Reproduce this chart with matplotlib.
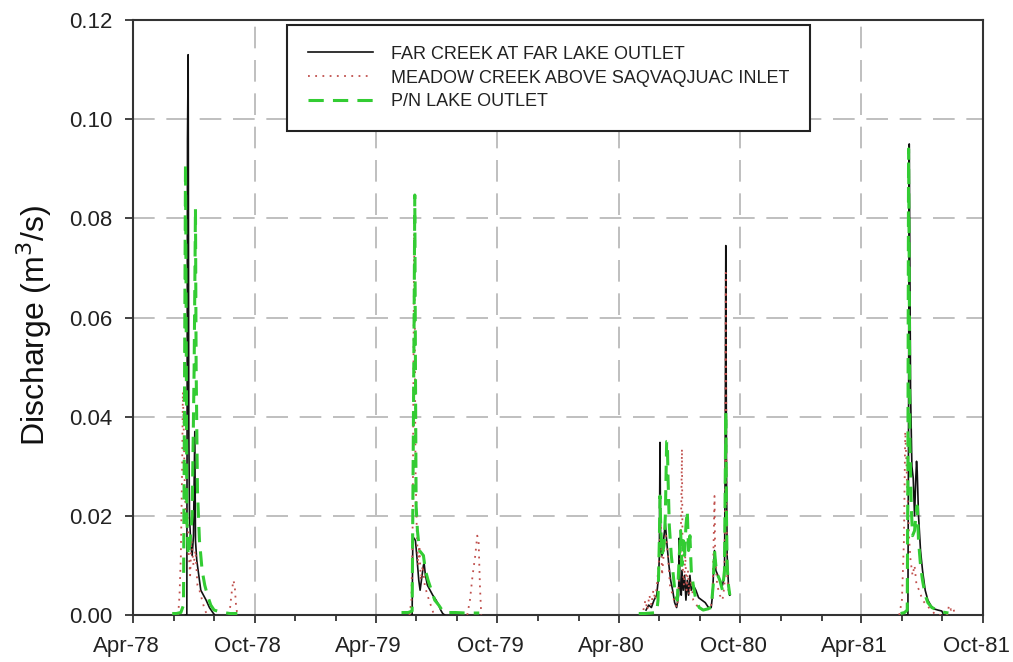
import matplotlib
matplotlib.use("Agg")
import matplotlib.pyplot as plt
import matplotlib.dates as mdates
import matplotlib.transforms as mtransforms
from matplotlib.ticker import FormatStrFormatter
import pandas as pd

plt.rcParams["font.family"] = ["Liberation Sans", "DejaVu Sans"]

# ---- Far Creek at Far Lake outlet (m3/s) ----
far_1978_md = ["06-19", "06-21", "06-22", "06-23", "06-24", "06-25", "06-27", "06-29",
               "07-01", "07-03", "07-04", "07-06", "07-09", "07-12", "07-16", "07-20",
               "07-25", "07-30", "08-02"]
far_1978_q = [0.0, 0.0, 0.096, 0.113, 0.037, 0.020, 0.014, 0.012,
              0.016, 0.037, 0.015, 0.011, 0.008, 0.005, 0.004, 0.003,
              0.0015, 0.0005, 0.0]

far_1979_md = ["05-25", "05-26", "05-27", "05-29", "05-31", "06-02", "06-05", "06-07",
               "06-09", "06-12", "06-13", "06-15", "06-18", "06-22", "06-26", "07-01",
               "07-05", "07-08", "07-11", "07-14"]
far_1979_q = [0.0, 0.0, 0.015, 0.0155, 0.015, 0.012, 0.007, 0.005,
              0.007, 0.010, 0.0105, 0.008, 0.006, 0.005, 0.004, 0.003,
              0.002, 0.001, 0.0003, 0.0]

far_1980_md = ["05-12", "05-16", "05-20", "05-24", "05-28", "05-31", "06-01", "06-02",
               "06-03", "06-05", "06-08", "06-10", "06-12", "06-15", "06-18", "06-21",
               "06-24", "06-27", "06-30", "07-01", "07-02", "07-04", "07-05", "07-07",
               "07-09", "07-11", "07-13", "07-15", "07-17", "07-19", "07-22", "07-26",
               "07-30", "08-04", "08-09", "08-14", "08-18", "08-20", "08-23", "08-25",
               "08-28", "08-31", "09-04", "09-07", "09-08", "09-09", "09-10", "09-11",
               "09-13", "09-15"]
far_1980_q = [0.001, 0.002, 0.0015, 0.003, 0.004, 0.008, 0.012, 0.0348,
              0.013, 0.012, 0.016, 0.0185, 0.015, 0.0105, 0.007, 0.005,
              0.0025, 0.0015, 0.004, 0.0155, 0.006, 0.004, 0.009, 0.005,
              0.008, 0.003, 0.007, 0.004, 0.008, 0.005, 0.006, 0.005,
              0.0035, 0.003, 0.0025, 0.0015, 0.0015, 0.004, 0.013, 0.009,
              0.008, 0.007, 0.006, 0.008, 0.030, 0.0745, 0.030, 0.012,
              0.006, 0.004]

far_1981_md = ["06-08", "06-10", "06-11", "06-12", "06-13", "06-14", "06-16", "06-18",
               "06-20", "06-22", "06-23", "06-24", "06-26", "06-29", "07-02", "07-06",
               "07-10", "07-15", "07-20", "07-25", "07-31", "08-03"]
far_1981_q = [0.0, 0.0, 0.040, 0.095, 0.070, 0.045, 0.030, 0.0276,
              0.020, 0.028, 0.031, 0.029, 0.020, 0.013, 0.009, 0.005,
              0.003, 0.0018, 0.0012, 0.001, 0.0008, 0.0]

# ---- Meadow Creek above Saqvaqjuac inlet (m3/s) ----
meadow_1978_md = ["06-08", "06-10", "06-12", "06-14", "06-15", "06-16", "06-18", "06-20",
                  "06-22", "06-24", "06-26", "06-28", "07-01", "07-04", "07-07", "07-10",
                  "07-14", "07-18", "07-22"]
meadow_1978_q = [0.0, 0.004, 0.012, 0.030, 0.045, 0.040, 0.025, 0.018,
                 0.020, 0.012, 0.008, 0.015, 0.010, 0.013, 0.006, 0.005,
                 0.003, 0.001, 0.0]
meadow_1978b_md = ["08-24", "08-27", "08-30", "09-01", "09-03", "09-05"]
meadow_1978b_q = [0.0, 0.004, 0.007, 0.006, 0.002, 0.0]

meadow_1979_md = ["05-22", "05-25", "05-27", "05-29", "05-30", "05-31", "06-02", "06-04",
                  "06-06", "06-08", "06-11", "06-14", "06-18", "06-23", "06-28"]
meadow_1979_q = [0.0, 0.003, 0.020, 0.077, 0.060, 0.030, 0.017, 0.010,
                 0.014, 0.007, 0.010, 0.006, 0.004, 0.002, 0.0]
meadow_1979b_md = ["08-17", "08-21", "08-25", "08-29", "09-01", "09-03", "09-05", "09-07"]
meadow_1979b_q = [0.0, 0.003, 0.008, 0.012, 0.016, 0.015, 0.006, 0.0]

meadow_1980_md = ["05-08", "05-11", "05-14", "05-17", "05-20", "05-23", "05-26", "05-29",
                  "06-01", "06-03", "06-05", "06-08", "06-11", "06-14", "06-17", "06-21",
                  "06-25", "06-28", "07-01", "07-03", "07-05", "07-06", "07-08", "07-10",
                  "07-12", "07-14", "07-16", "07-19", "07-22", "07-27", "08-02", "08-09",
                  "08-16", "08-20", "08-23", "08-24", "08-27", "08-31", "09-04", "09-07",
                  "09-08", "09-09", "09-10", "09-11", "09-13", "09-15"]
meadow_1980_q = [0.001, 0.003, 0.001, 0.004, 0.002, 0.005, 0.003, 0.007,
                 0.012, 0.020, 0.008, 0.013, 0.016, 0.012, 0.006, 0.004,
                 0.002, 0.0015, 0.008, 0.012, 0.0335, 0.010, 0.006, 0.012,
                 0.005, 0.009, 0.004, 0.007, 0.003, 0.002, 0.001, 0.0015,
                 0.001, 0.003, 0.024, 0.012, 0.006, 0.004, 0.003, 0.006,
                 0.030, 0.069, 0.025, 0.008, 0.005, 0.006]

meadow_1981_md = ["05-28", "06-01", "06-04", "06-06", "06-08", "06-10", "06-12", "06-14",
                  "06-17", "06-20", "06-23", "06-27", "07-02", "07-08", "07-15", "07-22",
                  "08-08", "08-11", "08-14", "08-17", "08-20"]
meadow_1981_q = [0.0, 0.003, 0.015, 0.037, 0.030, 0.022, 0.015, 0.011,
                 0.008, 0.010, 0.006, 0.005, 0.003, 0.002, 0.001, 0.0,
                 0.0, 0.002, 0.001, 0.0015, 0.0]

# ---- P/N Lake outlet (m3/s) ----
pn_1978_md = ["05-30", "06-05", "06-12", "06-16", "06-17", "06-19", "06-20", "06-21",
              "06-23", "06-26", "06-29", "07-02", "07-04", "07-05", "07-07", "07-10",
              "07-14", "07-18", "07-22", "07-27", "08-01", "08-06", "08-15", "08-25",
              "09-05"]
pn_1978_q = [0.0003, 0.0003, 0.0005, 0.002, 0.030, 0.091, 0.060, 0.020,
             0.012, 0.015, 0.020, 0.050, 0.082, 0.050, 0.025, 0.015,
             0.009, 0.006, 0.004, 0.002, 0.001, 0.0008, 0.0005, 0.0003,
             0.0003]

pn_1979_md = ["05-10", "05-20", "05-26", "05-27", "05-29", "05-30", "05-31", "06-01",
              "06-03", "06-06", "06-09", "06-12", "06-15", "06-19", "06-24", "06-29",
              "07-05", "07-10", "07-15", "07-30", "08-15", "09-04"]
pn_1979_q = [0.0005, 0.0005, 0.0008, 0.020, 0.060, 0.0847, 0.050, 0.022,
             0.017, 0.013, 0.0125, 0.012, 0.009, 0.007, 0.005, 0.003,
             0.002, 0.001, 0.0005, 0.0005, 0.0004, 0.0004]

pn_1980_md = ["05-01", "05-10", "05-20", "05-28", "05-30", "06-01", "06-02", "06-03",
              "06-05", "06-08", "06-10", "06-12", "06-13", "06-14", "06-16", "06-19",
              "06-22", "06-25", "06-28", "07-01", "07-03", "07-05", "07-07", "07-09",
              "07-11", "07-13", "07-15", "07-17", "07-19", "07-22", "07-26", "07-31",
              "08-06", "08-12", "08-18", "08-21", "08-23", "08-25", "08-28", "08-31",
              "09-04", "09-07", "09-09", "09-10", "09-11", "09-13", "09-15"]
pn_1980_q = [0.0003, 0.0003, 0.0004, 0.0005, 0.003, 0.015, 0.024, 0.018,
             0.012, 0.014, 0.020, 0.035, 0.035, 0.028, 0.018, 0.012,
             0.008, 0.004, 0.003, 0.012, 0.017, 0.010, 0.015, 0.012,
             0.018, 0.021, 0.013, 0.016, 0.009, 0.006, 0.003, 0.0015,
             0.001, 0.0012, 0.0015, 0.006, 0.013, 0.010, 0.008, 0.007,
             0.005, 0.009, 0.041, 0.020, 0.010, 0.006, 0.004]

pn_1981_md = ["05-30", "06-05", "06-09", "06-10", "06-11", "06-12", "06-13", "06-15",
              "06-17", "06-20", "06-22", "06-24", "06-26", "06-29", "07-02", "07-06",
              "07-10", "07-16", "07-24", "08-01", "08-10"]
pn_1981_q = [0.0003, 0.0005, 0.001, 0.030, 0.094, 0.070, 0.035, 0.022,
             0.016, 0.017, 0.020, 0.022, 0.015, 0.010, 0.007, 0.004,
             0.0025, 0.0015, 0.001, 0.0006, 0.0004]

series_labels = ["FAR CREEK AT FAR LAKE OUTLET",
                 "MEADOW CREEK ABOVE SAQVAQJUAC INLET",
                 "P/N LAKE OUTLET"]
y_ticks = [0.00, 0.02, 0.04, 0.06, 0.08, 0.10, 0.12]


def to_dates(year, md):
    return pd.to_datetime([f"{year}-{d}" for d in md])


far = [(1978, far_1978_md, far_1978_q), (1979, far_1979_md, far_1979_q),
       (1980, far_1980_md, far_1980_q), (1981, far_1981_md, far_1981_q)]
meadow = [(1978, meadow_1978_md, meadow_1978_q), (1978, meadow_1978b_md, meadow_1978b_q),
          (1979, meadow_1979_md, meadow_1979_q), (1979, meadow_1979b_md, meadow_1979b_q),
          (1980, meadow_1980_md, meadow_1980_q), (1981, meadow_1981_md, meadow_1981_q)]
pn = [(1978, pn_1978_md, pn_1978_q), (1979, pn_1979_md, pn_1979_q),
      (1980, pn_1980_md, pn_1980_q), (1981, pn_1981_md, pn_1981_q)]

fig = plt.figure(figsize=(10.13, 6.62), dpi=100)
ax = fig.add_axes([133 / 1013, 47 / 662, 850 / 1013, 595 / 662])

styles = [
    dict(color="#111111", lw=1.2, ls="-"),
    dict(color="#c0504d", lw=1.3, ls=(0, (1, 3))),
    dict(color="#33cc33", lw=2.2, ls=(0, (5, 3))),
]

for groups, style, label in zip([far, meadow, pn], styles, series_labels):
    for i, (yr, md, q) in enumerate(groups):
        ax.plot(to_dates(yr, md), q, label=label if i == 0 else None,
                zorder=3, **style)

ax.set_xlim(pd.Timestamp("1978-04-01"), pd.Timestamp("1981-10-01"))
ax.set_ylim(0, 0.12)
ax.set_yticks(y_ticks)
ax.yaxis.set_major_formatter(FormatStrFormatter("%.2f"))

ax.xaxis.set_major_locator(mdates.MonthLocator(bymonth=[4, 10]))
ax.xaxis.set_minor_locator(mdates.MonthLocator(bymonth=[2, 6, 8, 12]))
ax.xaxis.set_major_formatter(mdates.DateFormatter("%b-%y"))

ax.grid(True, which="major", color="#b4b4b4", lw=1.2, ls=(0, (13, 7)), zorder=0)
ax.set_axisbelow(True)

ax.tick_params(axis="both", which="major", direction="out", length=6, width=1.2,
               labelsize=16, colors="#222222", pad=9)
ax.tick_params(axis="x", which="minor", direction="out", length=4, width=1.2,
               colors="#222222")
ax.tick_params(top=False, right=False)

for sp in ax.spines.values():
    sp.set_color("#333333")
    sp.set_linewidth(1.5)

ax.set_ylabel("Discharge (m$^3$/s)", fontsize=23, color="#111111")
ax.yaxis.set_label_coords(-0.093, 0.487)

leg = ax.legend(loc="upper left", bbox_to_anchor=(0.181, 0.9916), borderaxespad=0,
                fontsize=13, frameon=True, fancybox=False, framealpha=1,
                edgecolor="#222222", handlelength=3.6, handletextpad=1.0,
                borderpad=1.15, labelspacing=0.38)
leg.get_frame().set_linewidth(1.5)
for t in leg.get_texts():
    t.set_color("#222222")

# date labels sit slightly left of their ticks
fig.canvas.draw()
shift = mtransforms.ScaledTranslation(-7 / 100, 0, fig.dpi_scale_trans)
for lbl in ax.get_xticklabels():
    lbl.set_transform(lbl.get_transform() + shift)

fig.savefig("out.png", dpi=100)
